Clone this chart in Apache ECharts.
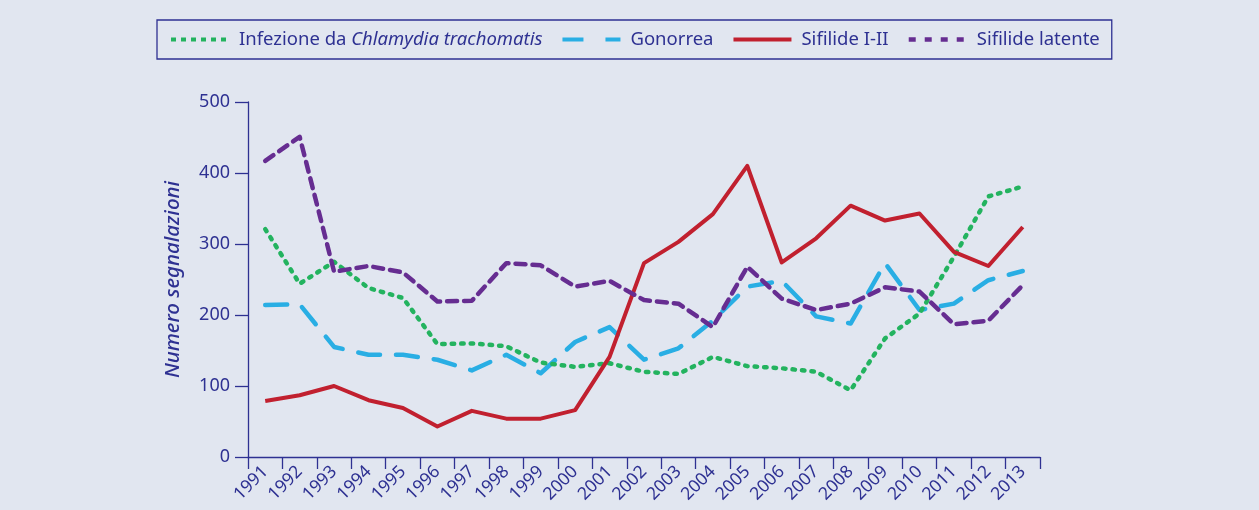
<!DOCTYPE html>
<html lang="it">
  <head>
    <meta charset="UTF-8" />
    <title>Segnalazioni</title>
    <script src="https://cdn.jsdelivr.net/npm/echarts@6/dist/echarts.min.js"></script>
    <style>
      html, body { margin: 0; padding: 0; background: #e1e6f0; }
      #chart { width: 1259px; height: 510px; }
    </style>
  </head>
  <body>
    <div id="chart"></div>
    <script>
      const years = ["1991", "1992", "1993", "1994", "1995", "1996", "1997", "1998", "1999", "2000", "2001", "2002",
        "2003", "2004", "2005", "2006", "2007", "2008", "2009", "2010", "2011", "2012", "2013"];
      const chlamydia = [321, 244, 275, 238, 224, 159, 160, 156, 133, 127, 132, 120,
        117, 141, 128, 125, 120, 94, 167, 202, 282, 367, 381];
      const gonorrea = [214, 215, 155, 144, 144, 137, 122, 144, 118, 162, 183, 137,
        153, 192, 240, 248, 198, 188, 273, 207, 216, 249, 262];
      const sifilide12 = [79, 87, 100, 80, 69, 43, 65, 54, 54, 66, 141, 273,
        303, 342, 410, 274, 308, 354, 333, 343, 289, 269, 324];
      const sifilideLatente = [417, 451, 261, 269, 260, 219, 220, 273, 270, 240, 248, 221,
        216, 183, 268, 223, 207, 216, 239, 233, 187, 192, 242];

      const navy = "#2e3192";
      const font = "Noto Sans";
      const green = "#23b35f", blue = "#29aee4", red = "#c1202f", purple = "#662d91";

      const chart = echarts.init(document.getElementById("chart"));

      chart.setOption({
        backgroundColor: "#e1e6f0",
        animation: false,
        textStyle: { fontFamily: font, color: navy },
        legend: {
          left: 157,
          top: 20,
          padding: [10, 12, 10, 12],
          borderColor: navy,
          borderWidth: 1.3,
          itemWidth: 58,
          itemHeight: 14,
          itemGap: 18,
          itemStyle: { opacity: 0 },
          lineStyle: { width: 4 },
          data: [
            { name: "chlamydia", lineStyle: { type: [5, 5], cap: "butt", width: 4 } },
            { name: "Gonorrea", lineStyle: { type: [21, 22], cap: "butt", width: 4 } },
            { name: "Sifilide I-II", lineStyle: { width: 4 } },
            { name: "Sifilide latente", lineStyle: { type: [7, 9], cap: "butt", width: 4.5 } }
          ],
          textStyle: {
            fontFamily: font,
            fontSize: 18.5,
            color: navy,
            padding: [0, 0, 0, 5],
            rich: {
              n: { fontFamily: font, fontSize: 18.5, color: navy },
              i: { fontFamily: font, fontSize: 18.5, color: navy, fontStyle: "italic" }
            }
          },
          formatter: function (name) {
            if (name === "chlamydia") return "{n|Infezione da }{i|Chlamydia trachomatis}";
            return name;
          }
        },
        grid: { left: 248, right: 219, top: 102, bottom: 53, containLabel: false },
        xAxis: {
          type: "category",
          data: years,
          boundaryGap: true,
          axisLine: { lineStyle: { color: navy, width: 1.3 } },
          axisTick: { show: true, interval: 0, length: 12, lineStyle: { color: navy, width: 1.3 } },
          axisLabel: { interval: 0, rotate: 45, fontSize: 17.5, color: navy, fontFamily: font, margin: 12 },
          splitLine: { show: false }
        },
        yAxis: {
          type: "value",
          min: 0,
          max: 500,
          interval: 100,
          name: "Numero segnalazioni",
          nameLocation: "middle",
          nameGap: 65,
          nameTextStyle: { fontSize: 20.5, fontStyle: "italic", fontWeight: 500, color: navy, fontFamily: font },
          axisLine: { show: true, lineStyle: { color: navy, width: 1.3 } },
          axisTick: { show: true, length: 13, lineStyle: { color: navy, width: 1.3 } },
          axisLabel: { fontSize: 18, color: navy, fontFamily: font, margin: 18 },
          splitLine: { show: false }
        },
        series: [
          {
            name: "chlamydia",
            type: "line",
            data: chlamydia,
            symbol: "none",
            color: green,
            lineStyle: { color: green, width: 4.5, type: [2.5, 7], cap: "round", join: "round" },
            z: 3
          },
          {
            name: "Gonorrea",
            type: "line",
            data: gonorrea,
            symbol: "none",
            color: blue,
            lineStyle: { color: blue, width: 4.5, type: [22, 16], cap: "round", join: "round" },
            z: 2
          },
          {
            name: "Sifilide I-II",
            type: "line",
            data: sifilide12,
            symbol: "none",
            color: red,
            lineStyle: { color: red, width: 4, type: "solid", join: "round" },
            z: 4
          },
          {
            name: "Sifilide latente",
            type: "line",
            data: sifilideLatente,
            symbol: "none",
            color: purple,
            lineStyle: { color: purple, width: 4.5, type: [10, 7], cap: "round", join: "round" },
            z: 5
          }
        ]
      });
    </script>
  </body>
</html>
